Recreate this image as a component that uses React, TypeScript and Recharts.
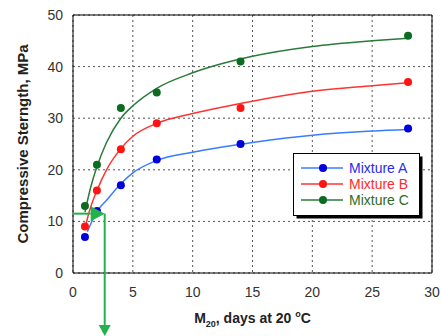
import React from 'react';
import { ComposedChart, Line, XAxis, YAxis, CartesianGrid, ReferenceLine, Legend } from 'recharts';

// Measured strength data
const ageDays = [1, 2, 4, 7, 14, 28];
const mixtureA = [7, 12, 17, 22, 25, 28];
const mixtureB = [9, 16, 24, 29, 32, 37];
const mixtureC = [13, 21, 32, 35, 41, 46];

// Fitted curves
const fitAgeA = [1.2, 1.5, 2, 2.8, 4, 5, 7, 10, 15, 20, 25, 28];
const fitA = [8, 9.6, 11.9, 14.1, 17.3, 19.4, 21.8, 23.4, 25.3, 26.7, 27.5, 27.8];
const fitAgeB = [1, 1.4, 2, 2.8, 4, 5, 7, 10, 15, 20, 25, 28];
const fitB = [8.7, 12.2, 16, 20, 24.1, 26.5, 29, 30.9, 33.3, 35.2, 36.3, 36.9];
const fitAgeC = [1, 1.5, 2, 2.8, 4, 5, 7, 10, 15, 20, 25, 28];
const fitC = [11.8, 16.8, 20.6, 25.3, 30, 32.4, 35.8, 38.8, 42, 43.9, 45, 45.5];

// Ticks
const xMajorTicks = [0, 5, 10, 15, 20, 25, 30];
const xMinorTicks = [0, 1, 2, 3, 4, 5, 6, 7, 8, 9, 10, 11, 12, 13, 14, 15, 16, 17, 18, 19, 20, 21, 22, 23, 24, 25, 26, 27, 28, 29, 30];
const yMajorTicks = [0, 10, 20, 30, 40, 50];
const yMinorTicks = [0, 2, 4, 6, 8, 10, 12, 14, 16, 18, 20, 22, 24, 26, 28, 30, 32, 34, 36, 38, 40, 42, 44, 46, 48, 50];

// Annotation arrow
const arrowStrength = 11.5;
const arrowAge = 2.65;
const arrowBottom = -12.2;

const seriesNames = ['Mixture A', 'Mixture B', 'Mixture C'];
const markerColors = ['#0000dd', '#ff1414', '#0b6b21'];
const curveColors = ['#3a7cff', '#ff3333', '#2a7a3a'];
const textColors = ['#2a2af0', '#ff2a2a', '#2f6b2a'];

const toPoints = (xs: number[], ys: number[]) => xs.map((x, i) => ({ x, y: ys[i] }));

const FONT = '"Liberation Sans", Arial, sans-serif';
const ARROW_COLOR = '#22b24c';

const makeArrow = (head: number, half: number) => (props: any) => {
  const { x1, y1, x2, y2 } = props;
  const dx = x2 - x1;
  const dy = y2 - y1;
  const len = Math.sqrt(dx * dx + dy * dy) || 1;
  const ux = dx / len;
  const uy = dy / len;
  const bx = x2 - ux * head;
  const by = y2 - uy * head;
  const px = -uy * half;
  const py = ux * half;
  return (
    <g>
      <line x1={x1} y1={y1} x2={bx} y2={by} stroke={ARROW_COLOR} strokeWidth={2} />
      <polygon points={`${x2},${y2} ${bx + px},${by + py} ${bx - px},${by - py}`} fill={ARROW_COLOR} />
    </g>
  );
};
const HorizontalArrow = makeArrow(14, 7.5);
const VerticalArrow = makeArrow(11, 6);

const XLabel = (props: any) => {
  const vb = props.viewBox || { x: 73, y: 273, width: 359, height: 50 };
  const cx = vb.x + vb.width / 2;
  const y = vb.y + 50;
  return (
    <text x={cx} y={y} textAnchor="middle" fontFamily={FONT} fontWeight="bold" fontSize={14} fill="#222">
      <tspan>M</tspan>
      <tspan dy={4} fontSize={9}>20</tspan>
      <tspan dy={-4}>, days at 20 </tspan>
      <tspan dy={-6} fontSize={9}>o</tspan>
      <tspan dy={6}>C</tspan>
    </text>
  );
};

const YLabel = (props: any) => {
  const vb = props.viewBox || { x: 0, y: 15, width: 73, height: 258 };
  const cx = vb.x + 22;
  const cy = vb.y + vb.height / 2;
  return (
    <text
      x={cx}
      y={cy}
      transform={`rotate(-90, ${cx}, ${cy})`}
      textAnchor="middle"
      dominantBaseline="central"
      fontFamily={FONT}
      fontWeight="bold"
      fontSize={15}
      fill="#222"
    >
      Compressive Sterngth, MPa
    </text>
  );
};

const LegendBox = () => {
  const rows = [15, 31, 47];
  return (
    <svg width={131} height={67} style={{ display: 'block' }}>
      <rect x={3.5} y={3.5} width={126} height={62} fill="#000" />
      <rect x={0.5} y={0.5} width={126} height={62} fill="#fff" stroke="#000" strokeWidth={1} />
      {seriesNames.map((name, i) => (
        <g key={name}>
          <line x1={8} y1={rows[i]} x2={50} y2={rows[i]} stroke={curveColors[i]} strokeWidth={1.5} />
          <circle cx={30} cy={rows[i]} r={4} fill={markerColors[i]} />
          <text x={56} y={rows[i]} dominantBaseline="central" fontFamily={FONT} fontSize={14} fill={textColors[i]}>
            {name}
          </text>
        </g>
      ))}
    </svg>
  );
};

const measured = [mixtureA, mixtureB, mixtureC];
const fitX = [fitAgeA, fitAgeB, fitAgeC];
const fitY = [fitA, fitB, fitC];

export default function App() {
  return (
    <div style={{ position: 'absolute', left: 0, top: 0, width: 442, height: 336, background: '#fff' }}>
      <ComposedChart
        width={442}
        height={336}
        margin={{ top: 15, right: 10, bottom: 13, left: 0 }}
        style={{ fontFamily: FONT }}
      >
        <CartesianGrid
          xAxisId="x"
          yAxisId="y"
          stroke="#555"
          strokeDasharray="2 3"
          fill="none"
        />
        <XAxis
          xAxisId="x"
          dataKey="x"
          type="number"
          domain={[0, 30]}
          ticks={xMajorTicks}
          interval={0}
          allowDataOverflow
          tickSize={0}
          tickLine={false}
          tickMargin={14}
          axisLine={{ stroke: '#000', strokeWidth: 1 }}
          tick={{ fontSize: 14, fill: '#333', fontFamily: FONT }}
          height={50}
          label={(p: any) => <XLabel {...p} />}
        />
        <XAxis xAxisId="xminor" dataKey="x" type="number" domain={[0, 30]} ticks={xMinorTicks} interval={0} mirror tickSize={3} tick={false} axisLine={false} tickLine={{ stroke: '#000' }} />
        <XAxis xAxisId="xmajor" dataKey="x" type="number" domain={[0, 30]} ticks={xMajorTicks} interval={0} mirror tickSize={5} tick={false} axisLine={false} tickLine={{ stroke: '#000' }} />
        <XAxis xAxisId="xtop" orientation="top" dataKey="x" type="number" domain={[0, 30]} ticks={xMinorTicks} interval={0} mirror tickSize={3} tick={false} axisLine={{ stroke: '#000' }} tickLine={{ stroke: '#000' }} />
        <XAxis xAxisId="xtopmajor" orientation="top" dataKey="x" type="number" domain={[0, 30]} ticks={xMajorTicks} interval={0} mirror tickSize={5} tick={false} axisLine={false} tickLine={{ stroke: '#000' }} />
        <YAxis
          yAxisId="y"
          type="number"
          domain={[0, 50]}
          ticks={yMajorTicks}
          interval={0}
          allowDataOverflow
          width={73}
          tickSize={0}
          tickLine={false}
          tickMargin={10}
          axisLine={{ stroke: '#000', strokeWidth: 1 }}
          tick={{ fontSize: 14, fill: '#333', fontFamily: FONT }}
          label={(p: any) => <YLabel {...p} />}
        />
        <YAxis yAxisId="yminor" type="number" domain={[0, 50]} ticks={yMinorTicks} interval={0} mirror tickSize={3} tick={false} axisLine={false} tickLine={{ stroke: '#000' }} />
        <YAxis yAxisId="ymajor" type="number" domain={[0, 50]} ticks={yMajorTicks} interval={0} mirror tickSize={5} tick={false} axisLine={false} tickLine={{ stroke: '#000' }} />
        <YAxis yAxisId="yright" orientation="right" type="number" domain={[0, 50]} ticks={yMinorTicks} interval={0} mirror tickSize={3} tick={false} axisLine={{ stroke: '#000' }} tickLine={{ stroke: '#000' }} />
        <YAxis yAxisId="yrightmajor" orientation="right" type="number" domain={[0, 50]} ticks={yMajorTicks} interval={0} mirror tickSize={5} tick={false} axisLine={false} tickLine={{ stroke: '#000' }} />

        {seriesNames.map((name, i) => (
          <Line
            key={`fit-${name}`}
            xAxisId="x"
            yAxisId="y"
            data={toPoints(fitX[i], fitY[i])}
            dataKey="y"
            type="monotone"
            stroke={curveColors[i]}
            strokeWidth={1.5}
            dot={false}
            activeDot={false}
            isAnimationActive={false}
            legendType="none"
          />
        ))}
        {seriesNames.map((name, i) => (
          <Line
            key={`pts-${name}`}
            name={name}
            xAxisId="x"
            yAxisId="y"
            data={toPoints(ageDays, measured[i])}
            dataKey="y"
            stroke="none"
            dot={{ r: 4, fill: markerColors[i], stroke: markerColors[i], strokeWidth: 0 }}
            activeDot={false}
            isAnimationActive={false}
          />
        ))}

        <ReferenceLine
          xAxisId="x"
          yAxisId="y"
          segment={[{ x: 0, y: arrowStrength }, { x: arrowAge, y: arrowStrength }]}
          ifOverflow="visible"
          zIndex={2000}
          shape={(p: any) => <HorizontalArrow {...p} />}
        />
        <ReferenceLine
          xAxisId="x"
          yAxisId="y"
          segment={[{ x: arrowAge, y: arrowStrength }, { x: arrowAge, y: arrowBottom }]}
          ifOverflow="visible"
          zIndex={2000}
          shape={(p: any) => <VerticalArrow {...p} />}
        />

        <Legend
          layout="horizontal"
          verticalAlign="middle"
          align="center"
          wrapperStyle={{ position: 'absolute', left: 293, top: 153, width: 131, height: 67, margin: 0, padding: 0 }}
          content={() => <LegendBox />}
        />
      </ComposedChart>
    </div>
  );
}
